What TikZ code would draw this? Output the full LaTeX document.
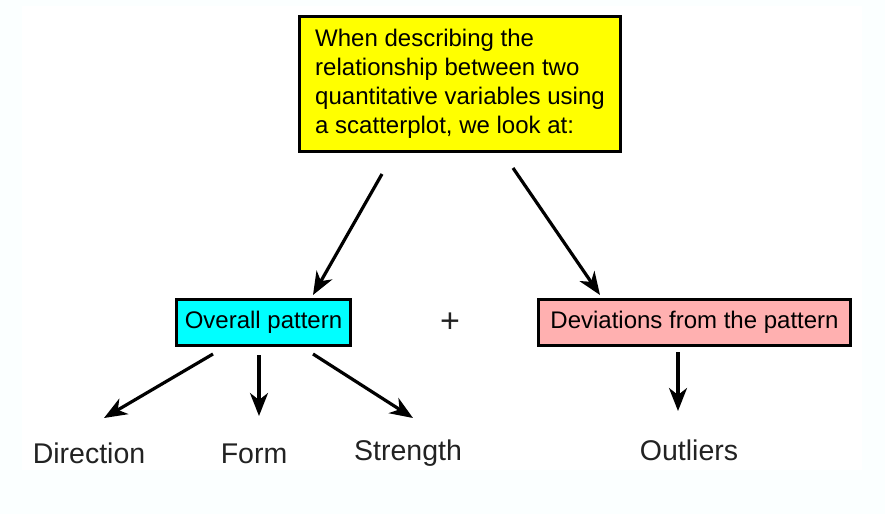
\documentclass[tikz,border=0pt]{standalone}
\usepackage{fontspec}
\setmainfont{Liberation Sans}
\usetikzlibrary{arrows.meta}
\definecolor{bgtint}{HTML}{FBFFFF}
\definecolor{boxyellow}{HTML}{FFFF00}
\definecolor{boxcyan}{HTML}{00FFFF}
\definecolor{boxpink}{HTML}{FFB0B0}
\definecolor{labelgray}{HTML}{222222}
\begin{document}
\begin{tikzpicture}[x=1pt,y=-1pt,
  boxnode/.style={draw=black, line width=3pt, inner sep=0pt, text=black,
    font=\fontsize{24}{29}\selectfont},
  labelnode/.style={text=labelgray, inner sep=0pt, font=\fontsize{28.5}{32}\selectfont},
  arrowline/.style={line width=3.2pt, -{Stealth[length=23pt,width=18pt,inset=7pt]}}
]
\useasboundingbox (0,0) rectangle (885,514);
\fill[bgtint] (0,0) rectangle (885,514);
\fill[white] (22,6) rectangle (862,470);

\node[boxnode, fill=boxyellow, minimum width=321pt, minimum height=135pt, align=left]
  (top) at (460,84) {When describing the\\relationship between two\\quantitative variables using\\a scatterplot, we look at:};
\node[boxnode, fill=boxcyan, minimum width=174pt, minimum height=46pt]
  (overall) at (263.5,322.5) {Overall pattern};
\node[boxnode, fill=boxpink, minimum width=312pt, minimum height=46pt]
  (dev) at (694.5,322.5) {Deviations from the pattern};
\node[labelnode, font=\fontsize{34}{36}\selectfont] (plus) at (450,323) {+};

\node[labelnode] (direction) at (89,453) {Direction};
\node[labelnode] (form) at (254,454) {Form};
\node[labelnode] (strength) at (408,453) {Strength};
\node[labelnode] (outliers) at (689,450) {Outliers};

\coordinate (a1s) at (382,174);
\coordinate (a1e) at (313,295);
\coordinate (a2s) at (513,168);
\coordinate (a2e) at (600,295);
\coordinate (b1s) at (213,354);
\coordinate (b1e) at (104,418);
\coordinate (b2s) at (259,355);
\coordinate (b2e) at (259,416);
\coordinate (b3s) at (313,354);
\coordinate (b3e) at (413,418);
\coordinate (c1s) at (678,352);
\coordinate (c1e) at (678,411);

\draw[arrowline] (a1s) -- (a1e);
\draw[arrowline] (a2s) -- (a2e);
\draw[arrowline] (b1s) -- (b1e);
\draw[arrowline] (b2s) -- (b2e);
\draw[arrowline] (b3s) -- (b3e);
\draw[arrowline] (c1s) -- (c1e);
\end{tikzpicture}
\end{document}
